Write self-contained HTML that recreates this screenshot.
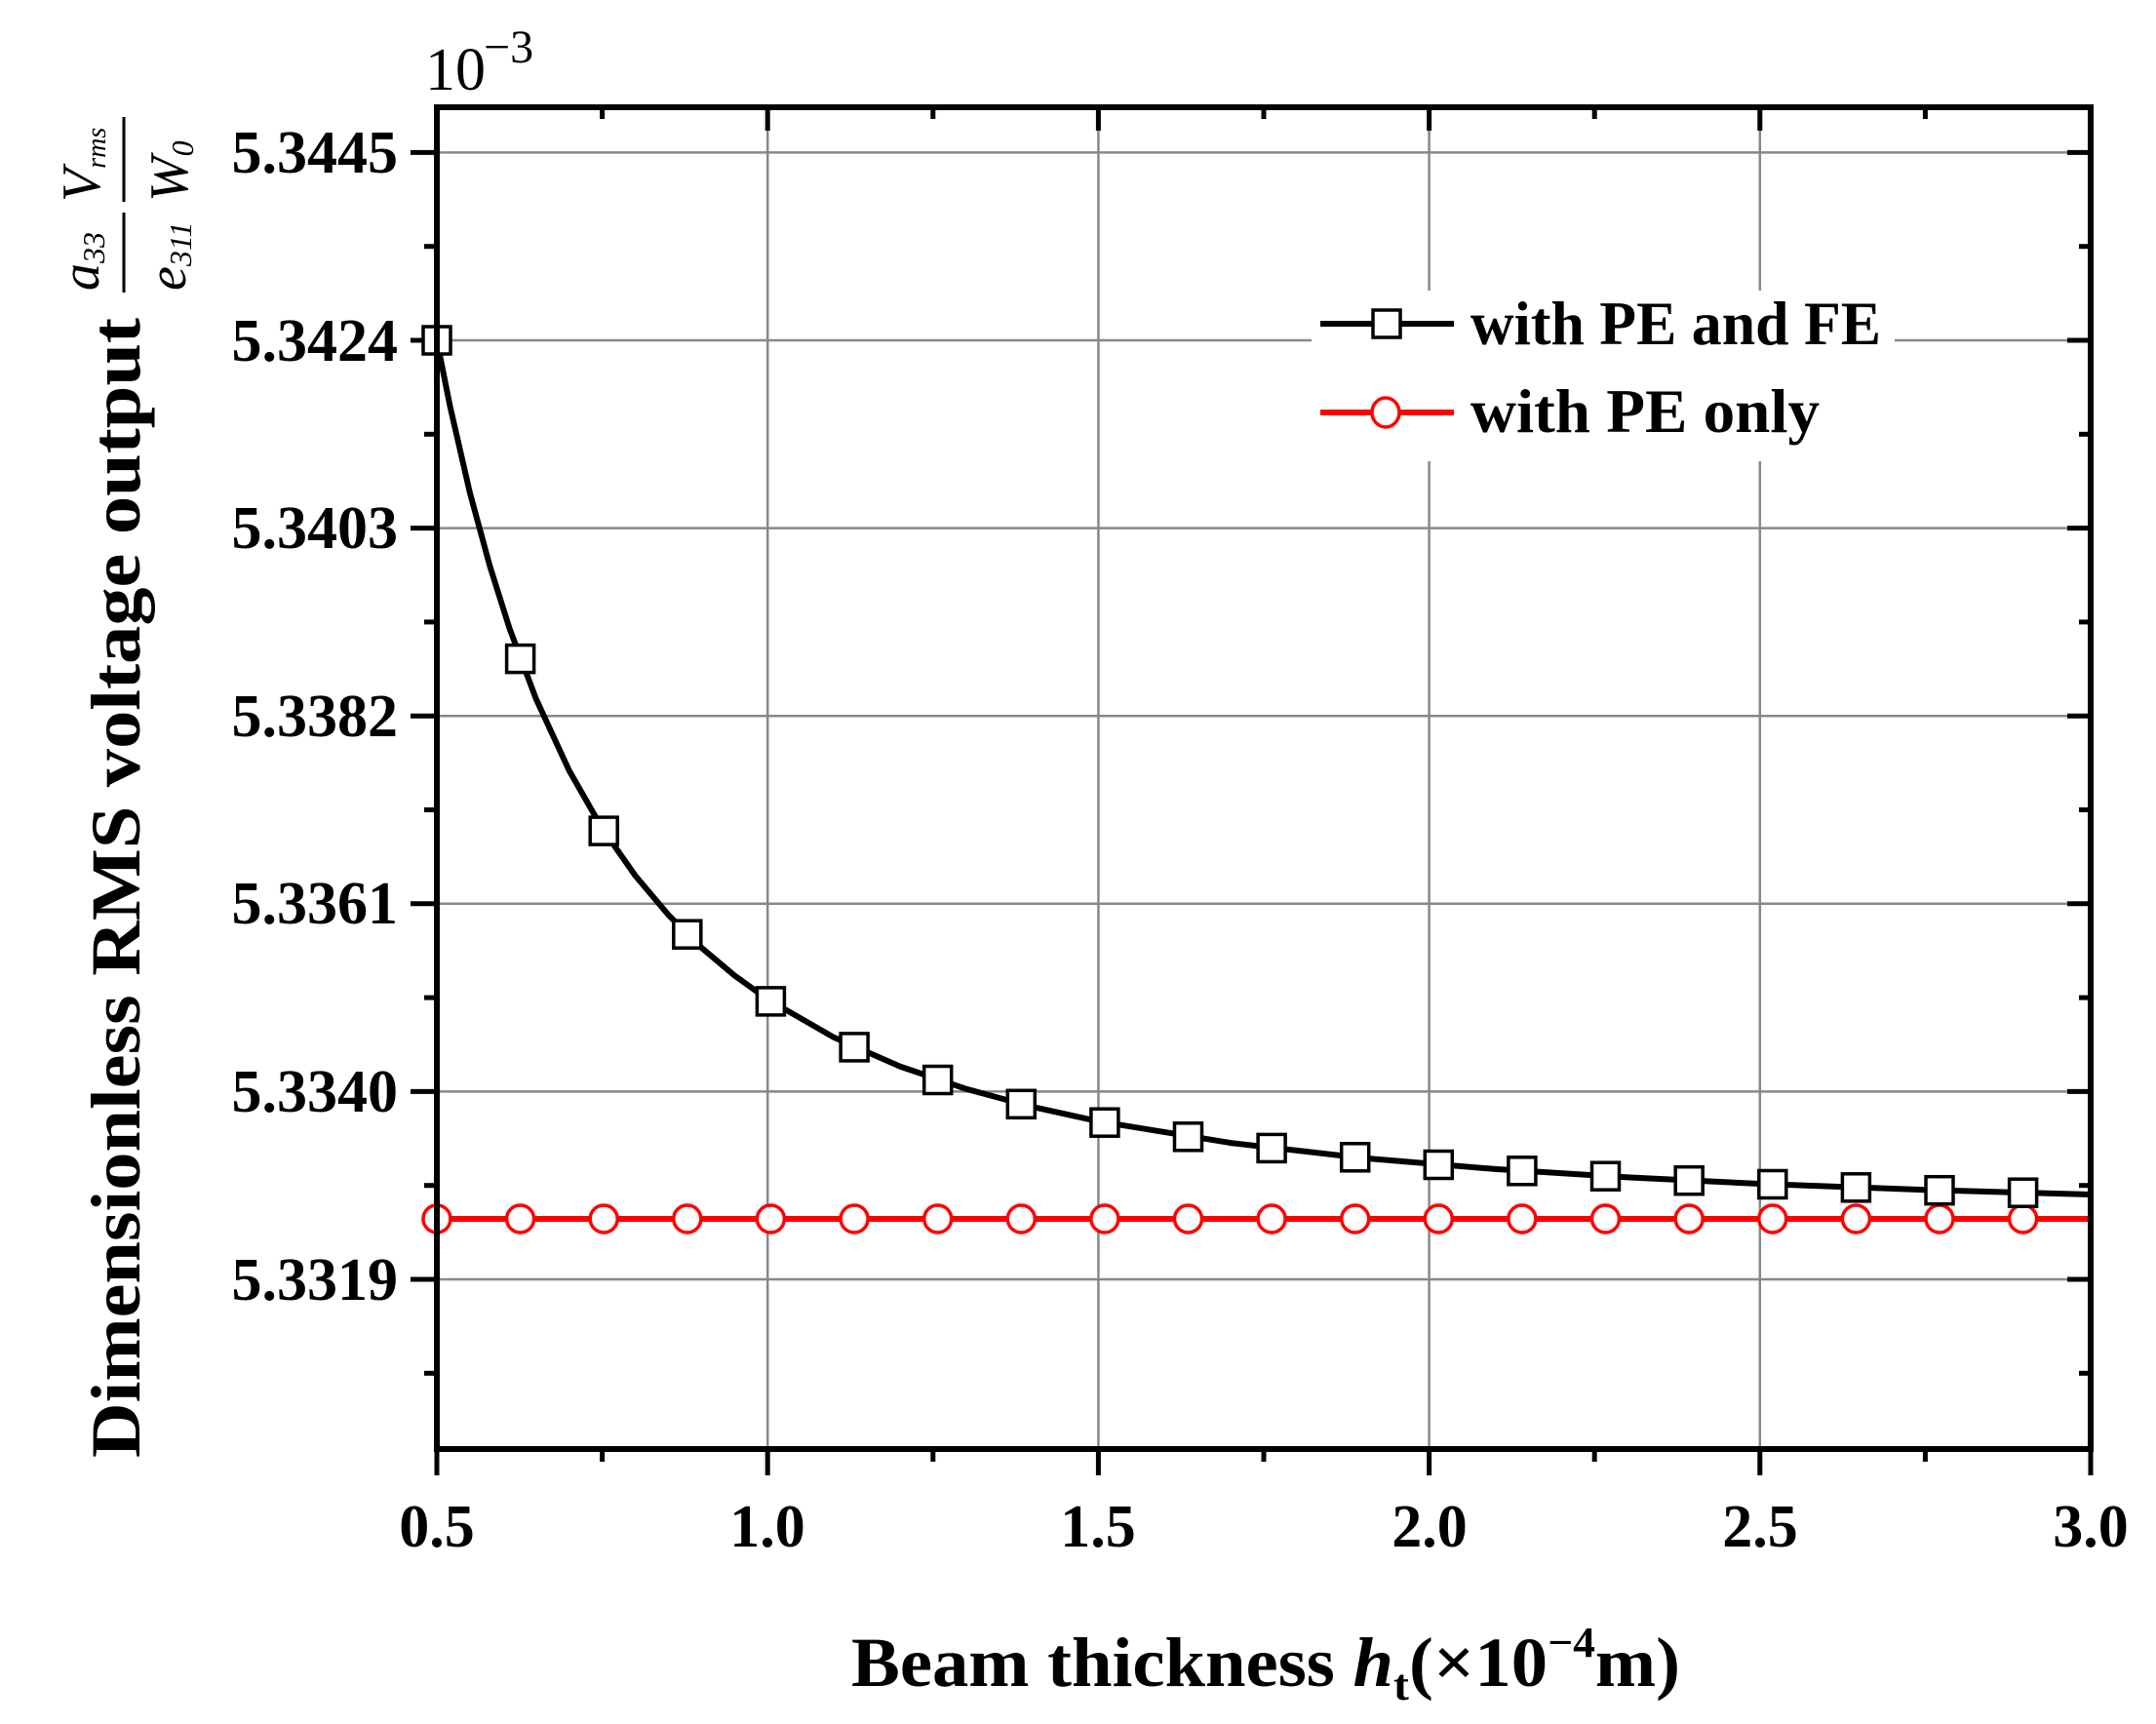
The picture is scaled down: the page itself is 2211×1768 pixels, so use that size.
<!DOCTYPE html>
<html><head><meta charset="utf-8"><style>
html,body{margin:0;padding:0;background:#fff;}
svg{display:block;}
text{font-family:"Liberation Serif",serif;}
</style></head><body>
<svg width="2211" height="1768" viewBox="0 0 2211 1768" xmlns="http://www.w3.org/2000/svg">
<rect width="2211" height="1768" fill="#fff"/>
<g stroke="#888" stroke-width="2.5">
<line x1="787.2" y1="110" x2="787.2" y2="1486"/>
<line x1="1126.4" y1="110" x2="1126.4" y2="1486"/>
<line x1="1465.6" y1="110" x2="1465.6" y2="1486"/>
<line x1="1804.8" y1="110" x2="1804.8" y2="1486"/>
<line x1="448" y1="156.4" x2="2144" y2="156.4"/>
<line x1="448" y1="349" x2="2144" y2="349"/>
<line x1="448" y1="541.6" x2="2144" y2="541.6"/>
<line x1="448" y1="734.2" x2="2144" y2="734.2"/>
<line x1="448" y1="926.8" x2="2144" y2="926.8"/>
<line x1="448" y1="1119.4" x2="2144" y2="1119.4"/>
<line x1="448" y1="1312" x2="2144" y2="1312"/>
</g>
<rect x="1345" y="298" width="598" height="175" fill="#fff"/>
<g stroke="#000" stroke-width="5">
<line x1="421" y1="156.4" x2="448" y2="156.4"/><line x1="421" y1="349" x2="448" y2="349"/>
<line x1="421" y1="541.6" x2="448" y2="541.6"/><line x1="421" y1="734.2" x2="448" y2="734.2"/>
<line x1="421" y1="926.8" x2="448" y2="926.8"/><line x1="421" y1="1119.4" x2="448" y2="1119.4"/>
<line x1="421" y1="1312" x2="448" y2="1312"/>
<line x1="435" y1="252.7" x2="448" y2="252.7"/><line x1="435" y1="445.3" x2="448" y2="445.3"/>
<line x1="435" y1="637.9" x2="448" y2="637.9"/><line x1="435" y1="830.5" x2="448" y2="830.5"/>
<line x1="435" y1="1023.1" x2="448" y2="1023.1"/><line x1="435" y1="1215.7" x2="448" y2="1215.7"/>
<line x1="435" y1="1408.3" x2="448" y2="1408.3"/>
<line x1="2120" y1="156.4" x2="2144" y2="156.4"/><line x1="2120" y1="349" x2="2144" y2="349"/>
<line x1="2120" y1="541.6" x2="2144" y2="541.6"/><line x1="2120" y1="734.2" x2="2144" y2="734.2"/>
<line x1="2120" y1="926.8" x2="2144" y2="926.8"/><line x1="2120" y1="1119.4" x2="2144" y2="1119.4"/>
<line x1="2120" y1="1312" x2="2144" y2="1312"/>
<line x1="2132" y1="252.7" x2="2144" y2="252.7"/><line x1="2132" y1="445.3" x2="2144" y2="445.3"/>
<line x1="2132" y1="637.9" x2="2144" y2="637.9"/><line x1="2132" y1="830.5" x2="2144" y2="830.5"/>
<line x1="2132" y1="1023.1" x2="2144" y2="1023.1"/><line x1="2132" y1="1215.7" x2="2144" y2="1215.7"/>
<line x1="2132" y1="1408.3" x2="2144" y2="1408.3"/>
<line x1="448" y1="1486" x2="448" y2="1513"/><line x1="787.2" y1="1486" x2="787.2" y2="1513"/>
<line x1="1126.4" y1="1486" x2="1126.4" y2="1513"/><line x1="1465.6" y1="1486" x2="1465.6" y2="1513"/>
<line x1="1804.8" y1="1486" x2="1804.8" y2="1513"/><line x1="2144" y1="1486" x2="2144" y2="1513"/>
<line x1="617.6" y1="1486" x2="617.6" y2="1499"/><line x1="956.8" y1="1486" x2="956.8" y2="1499"/>
<line x1="1296" y1="1486" x2="1296" y2="1499"/><line x1="1635.2" y1="1486" x2="1635.2" y2="1499"/>
<line x1="1974.4" y1="1486" x2="1974.4" y2="1499"/>
<line x1="787.2" y1="110" x2="787.2" y2="134"/><line x1="1126.4" y1="110" x2="1126.4" y2="134"/>
<line x1="1465.6" y1="110" x2="1465.6" y2="134"/><line x1="1804.8" y1="110" x2="1804.8" y2="134"/>
<line x1="617.6" y1="110" x2="617.6" y2="122"/><line x1="956.8" y1="110" x2="956.8" y2="122"/>
<line x1="1296" y1="110" x2="1296" y2="122"/><line x1="1635.2" y1="110" x2="1635.2" y2="122"/>
<line x1="1974.4" y1="110" x2="1974.4" y2="122"/>
</g>
<line x1="448" y1="1250" x2="2144" y2="1250" stroke="#f00" stroke-width="6"/>
<polyline fill="none" stroke="#000" stroke-width="6" stroke-linejoin="round" points="448,349 461.6,417 481.9,505.4 502.3,580.4 522.6,644.7 549.8,716.9 583.7,790.3 617.6,849.6 651.5,898 685.4,938.2 719.4,971.9 753.3,1000.4 787.2,1024.8 855,1063.8 922.9,1093.6 990.7,1116.7 1058.6,1135.1 1126.4,1149.9 1262.1,1172.1 1397.8,1187.6 1533.4,1198.9 1669.1,1207.4 1804.8,1214 1974.4,1220.2 2144,1225"/>
<g fill="#fff" stroke="#f00" stroke-width="3.5">
<circle cx="448" cy="1250" r="14"/><circle cx="533.6" cy="1250" r="14"/><circle cx="619.2" cy="1250" r="14"/><circle cx="704.8" cy="1250" r="14"/><circle cx="790.4" cy="1250" r="14"/><circle cx="876.1" cy="1250" r="14"/><circle cx="961.7" cy="1250" r="14"/><circle cx="1047.3" cy="1250" r="14"/><circle cx="1132.9" cy="1250" r="14"/><circle cx="1218.5" cy="1250" r="14"/><circle cx="1304.1" cy="1250" r="14"/><circle cx="1389.7" cy="1250" r="14"/><circle cx="1475.3" cy="1250" r="14"/><circle cx="1560.9" cy="1250" r="14"/><circle cx="1646.5" cy="1250" r="14"/><circle cx="1732.2" cy="1250" r="14"/><circle cx="1817.8" cy="1250" r="14"/><circle cx="1903.4" cy="1250" r="14"/><circle cx="1989" cy="1250" r="14"/><circle cx="2074.6" cy="1250" r="14"/>
</g>
<g fill="#fff" stroke="#000" stroke-width="3.5">
<rect x="434" y="335" width="28" height="28"/>
<rect x="519.6" y="661.6" width="28" height="28"/>
<rect x="605.2" y="838.1" width="28" height="28"/>
<rect x="690.8" y="944.2" width="28" height="28"/>
<rect x="776.4" y="1012.9" width="28" height="28"/>
<rect x="862.1" y="1059.9" width="28" height="28"/>
<rect x="947.7" y="1093.5" width="28" height="28"/>
<rect x="1033.3" y="1118.3" width="28" height="28"/>
<rect x="1118.9" y="1137.2" width="28" height="28"/>
<rect x="1204.5" y="1151.8" width="28" height="28"/>
<rect x="1290.1" y="1163.4" width="28" height="28"/>
<rect x="1375.7" y="1172.8" width="28" height="28"/>
<rect x="1461.3" y="1180.5" width="28" height="28"/>
<rect x="1546.9" y="1186.8" width="28" height="28"/>
<rect x="1632.5" y="1192.2" width="28" height="28"/>
<rect x="1718.2" y="1196.7" width="28" height="28"/>
<rect x="1803.8" y="1200.5" width="28" height="28"/>
<rect x="1889.4" y="1203.8" width="28" height="28"/>
<rect x="1975" y="1206.7" width="28" height="28"/>
<rect x="2060.6" y="1209.2" width="28" height="28"/>
</g>
<rect x="448" y="110" width="1696" height="1376" fill="none" stroke="#000" stroke-width="6"/>
<g font-size="62" font-weight="bold" text-anchor="end">
<text x="408" y="177">5.3445</text><text x="408" y="370">5.3424</text>
<text x="408" y="562">5.3403</text><text x="408" y="755">5.3382</text>
<text x="408" y="947">5.3361</text><text x="408" y="1140">5.3340</text>
<text x="408" y="1333">5.3319</text>
</g>
<g font-size="62" font-weight="bold" text-anchor="middle">
<text x="448" y="1586">0.5</text><text x="787" y="1586">1.0</text>
<text x="1126" y="1586">1.5</text><text x="1466" y="1586">2.0</text>
<text x="1805" y="1586">2.5</text><text x="2144" y="1586">3.0</text>
</g>
<text x="436" y="92" font-size="62">10</text>
<text x="496" y="64" font-size="48">−3</text>
<text x="873" y="1729" font-size="72" font-weight="bold" textLength="850" lengthAdjust="spacingAndGlyphs">Beam thickness <tspan font-style="italic">h</tspan><tspan font-size="46" dy="14">t</tspan><tspan dy="-14">(×10</tspan><tspan font-size="44" dy="-30">−4</tspan><tspan dy="30">m)</tspan></text>
<text transform="translate(143,1495) rotate(-90)" font-size="72" font-weight="bold" textLength="1169" lengthAdjust="spacingAndGlyphs">Dimensionless RMS voltage output</text>
<g stroke="#000" stroke-width="3">
<line x1="127" y1="120" x2="127" y2="207"/>
<line x1="127" y1="218" x2="127" y2="300"/>
</g>
<g transform="rotate(-90)" font-style="italic" font-size="56">
<text x="-298" y="101">a<tspan font-size="32" dy="6">33</tspan></text>
<text x="-298" y="190">e<tspan font-size="32" dy="6">311</tspan></text>
<text x="-207" y="102">V<tspan font-size="28" dy="6">rms</tspan></text>
<text x="-207" y="192">W<tspan font-size="32" dy="6">0</tspan></text>
</g>
<line x1="1354" y1="332" x2="1491" y2="332" stroke="#000" stroke-width="6"/>
<rect x="1408" y="318" width="28" height="28" fill="#fff" stroke="#000" stroke-width="3.5"/>
<line x1="1354" y1="423" x2="1491" y2="423" stroke="#f00" stroke-width="6"/>
<ellipse cx="1421" cy="423" rx="14" ry="15" fill="#fff" stroke="#f00" stroke-width="3.5"/>
<g font-size="64" font-weight="bold">
<text x="1508" y="353" textLength="421" lengthAdjust="spacingAndGlyphs">with PE and FE</text>
<text x="1508" y="443" textLength="358" lengthAdjust="spacingAndGlyphs">with PE only</text>
</g>
</svg>
</body></html>
